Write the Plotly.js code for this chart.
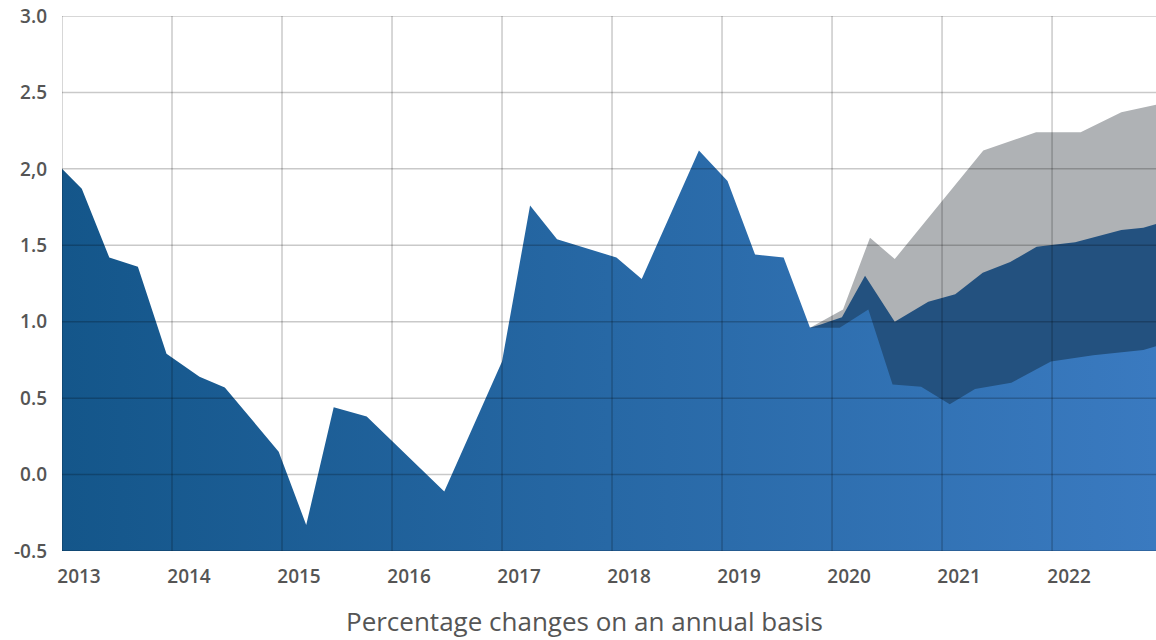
<!DOCTYPE html>
<html>
<head>
<meta charset="utf-8">
<script src="https://cdn.plot.ly/plotly-3.0.1.min.js"></script>
<style>html,body{margin:0;padding:0;background:#fff;}#chart{width:1156px;height:640px;}</style>
</head>
<body>
<div id="chart"></div>
<script>
// Main series (actual + lower bound of projection)
const mainX = [2013.0, 2013.18, 2013.43, 2013.69, 2013.95, 2014.25, 2014.48, 2014.97, 2015.22, 2015.47, 2015.77, 2016.475, 2017.0, 2017.255, 2017.50, 2018.04, 2018.27, 2018.79, 2019.05, 2019.30, 2019.56, 2019.80, 2020.07, 2020.33, 2020.55, 2020.81, 2021.07, 2021.30, 2021.63, 2021.99, 2022.375, 2022.83, 2022.945];
const mainY = [2.00, 1.87, 1.42, 1.36, 0.79, 0.64, 0.57, 0.15, -0.33, 0.44, 0.38, -0.11, 0.74, 1.76, 1.54, 1.42, 1.28, 2.12, 1.92, 1.44, 1.42, 0.96, 0.96, 1.08, 0.59, 0.575, 0.46, 0.56, 0.60, 0.74, 0.78, 0.815, 0.84];
// Middle band upper edge
const midX = [2019.80, 2019.89, 2020.09, 2020.30, 2020.57, 2020.875, 2021.12, 2021.37, 2021.62, 2021.86, 2022.21, 2022.63, 2022.83, 2022.945];
const midY = [0.96, 0.98, 1.03, 1.30, 1.00, 1.13, 1.18, 1.32, 1.39, 1.49, 1.52, 1.60, 1.615, 1.64];
// Upper band (grey) edge
const upX = [2019.80, 2020.10, 2020.345, 2020.57, 2021.375, 2021.62, 2021.855, 2022.26, 2022.63, 2022.945];
const upY = [0.96, 1.08, 1.55, 1.41, 2.12, 2.18, 2.24, 2.24, 2.37, 2.42];

const yTickVals = [-0.5, 0, 0.5, 1.0, 1.5, 2.0, 2.5, 3.0];
const yTickText = ["-0.5", "0.0", "0.5", "1.0", "1.5", "2,0", "2.5", "3.0"];
const xTickVals = [2013, 2014, 2015, 2016, 2017, 2018, 2019, 2020, 2021, 2022];
const xTickText = ["2013", "2014", "2015", "2016", "2017", "2018", "2019", "2020", "2021", "2022"];
const axisTitle = "Percentage changes on an annual basis";

const yMin = -0.5, yMax = 3.0;
const xMin = 2013, xMax = 2022.945;

function base(xs) {
  return {x: [xs[0], xs[xs.length - 1]], y: [yMin, yMin], mode: 'lines', line: {width: 0, color: 'rgba(0,0,0,0)'}, hoverinfo: 'skip', showlegend: false};
}

const traces = [
  base(upX),
  {x: upX, y: upY, mode: 'lines', line: {width: 0}, fill: 'tonexty', fillcolor: '#AFB2B5', showlegend: false},
  base(midX),
  {x: midX, y: midY, mode: 'lines', line: {width: 0}, fill: 'tonexty', fillcolor: '#23517F', showlegend: false},
  base(mainX),
  {x: mainX, y: mainY, mode: 'lines', line: {width: 0}, fill: 'tonexty',
   fillgradient: {type: 'horizontal', colorscale: [[0, '#14568A'], [1, '#3A7AC0']]}, showlegend: false}
];

const gridColor = 'rgba(0,0,0,0.21)';
const shapes = [];
xTickVals.forEach(v => shapes.push({type: 'line', xref: 'x', yref: 'paper', x0: v, x1: v, y0: 0, y1: 1, layer: 'above', line: {color: gridColor, width: 1.5}}));
yTickVals.forEach(v => shapes.push({type: 'line', xref: 'paper', yref: 'y', x0: 0, x1: 1, y0: v, y1: v, layer: 'above', line: {color: gridColor, width: 1.5}}));

const xTickFont = {family: 'Open Sans, Noto Sans, sans-serif', size: 19, color: '#555555', weight: 600};
const yTickFont = {family: 'Open Sans, Noto Sans, sans-serif', size: 19, color: '#555555', weight: 600};

const layout = {
  width: 1156, height: 640,
  margin: {l: 62, r: 0, t: 16, b: 89},
  paper_bgcolor: '#fff', plot_bgcolor: '#fff',
  showlegend: false,
  xaxis: {range: [xMin, xMax], tickvals: xTickVals, ticktext: xTickText, showgrid: false, zeroline: false,
          showline: false, ticks: '', tickfont: xTickFont, ticklabelshift: 17, ticklabelstandoff: 12, fixedrange: true},
  yaxis: {range: [yMin, yMax], tickvals: yTickVals, ticktext: yTickText, showgrid: false, zeroline: false,
          showline: false, ticks: '', tickfont: yTickFont, ticklabelstandoff: 14, fixedrange: true},
  shapes: shapes,
  annotations: [{text: axisTitle, xref: 'paper', yref: 'paper', x: 0.4776, y: -0.131, xanchor: 'center', yanchor: 'middle',
                 showarrow: false, font: {family: 'Open Sans, Noto Sans, sans-serif', size: 26, color: '#555555'}}]
};

Plotly.newPlot('chart', traces, layout, {displayModeBar: false, staticPlot: true});
</script>
</body>
</html>
